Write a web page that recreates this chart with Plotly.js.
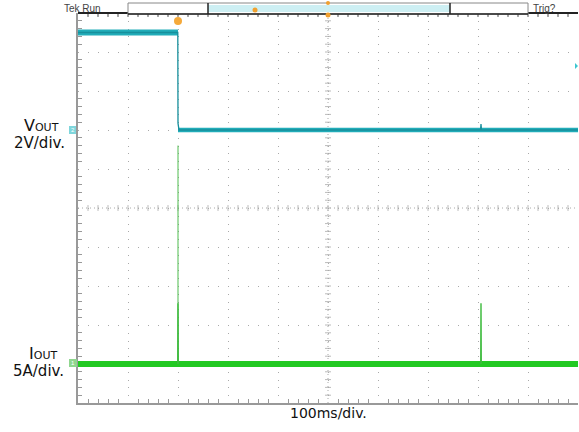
<!DOCTYPE html>
<html>
<head>
<meta charset="utf-8">
<script src="https://cdn.plot.ly/plotly-3.0.1.min.js"></script>
<style>html,body{margin:0;padding:0;background:#fff}#chart{width:579px;height:432px}</style>
</head>
<body>
<div id="chart"></div>
<script>
// ---- data (time in ms, VOUT in V, IOUT in A) ----
const voutBandT  = [0, 200, 200, 1000];
const voutBandHi = [5.15, 5.15, 0.12, 0.12];
const voutBandLo = [4.85, 4.85, -0.12, -0.12];
const voutT = [0, 199.6, 200, 200.6, 202, 805, 806, 807, 1000];
const voutV = [5.0, 5.0, 0.35, 0.05, 0, 0, 0.3, 0, 0];

const ioutBandT  = [0, 1000];
const ioutBandHi = [0.38, 0.38];
const ioutBandLo = [-0.38, -0.38];
const ioutFaintT = [199.6, 200, 200.4];
const ioutFaintA = [0, 28, 0];
const ioutCoreT  = [199.5, 200, 200.5, null, 805.5, 806, 806.5];
const ioutCoreA  = [0, 7.8, 0, null, 0, 7.8, 0];

// scope settings
const timeRange = [0, 1000];   // 100 ms/div, 10 div
const voutRange = [-14, 6];    // 2 V/div, ground at +2 div
const ioutRange = [-5, 45];    // 5 A/div, ground at -4 div
const labelV = "V<span style='font-size:11px'>OUT</span>";
const labelI = "I<span style='font-size:11px'>OUT</span>";
const scaleV = "2V/div.";
const scaleI = "5A/div.";
const scaleT = "100ms/div.";

const teal = '#22adb9', tealDark = '#178f9c';
const green = '#22c922';

const traces = [
  {x: voutBandT, y: voutBandLo, mode: 'lines', line: {width: 0, color: teal}, hoverinfo: 'skip'},
  {x: voutBandT, y: voutBandHi, mode: 'lines', line: {width: 0, color: teal}, fill: 'tonexty', fillcolor: teal, hoverinfo: 'skip'},
  {x: voutT, y: voutV, mode: 'lines', line: {width: 1.3, color: tealDark}},
  {x: ioutFaintT, y: ioutFaintA, yaxis: 'y2', mode: 'lines', line: {width: 1, color: 'rgba(70,185,70,0.55)'}},
  {x: ioutBandT, y: ioutBandLo, yaxis: 'y2', mode: 'lines', line: {width: 0, color: green}, hoverinfo: 'skip'},
  {x: ioutBandT, y: ioutBandHi, yaxis: 'y2', mode: 'lines', line: {width: 0, color: green}, fill: 'tonexty', fillcolor: green, hoverinfo: 'skip'},
  {x: ioutCoreT, y: ioutCoreA, yaxis: 'y2', mode: 'lines', connectgaps: false, line: {width: 1.4, color: '#3dbb3d'}}
];

// decorative shapes
const shapes = [];
const gridGrey = '#aaaaaa';
// center cross
shapes.push({type: 'line', xref: 'x', yref: 'y', x0: 500, x1: 500, y0: voutRange[0], y1: voutRange[1], line: {color: gridGrey, width: 1, dash: '1px,3px'}, layer: 'below'});
shapes.push({type: 'line', xref: 'x', yref: 'y', x0: 0, x1: 1000, y0: -4, y1: -4, line: {color: gridGrey, width: 1, dash: '1px,3px'}, layer: 'below'});
for (let v = voutRange[0] + 0.4; v < voutRange[1]; v += 0.4) {
  shapes.push({type: 'line', xref: 'x', yref: 'y', x0: 494, x1: 506, y0: v, y1: v, line: {color: '#bbbbbb', width: 1}, layer: 'below'});
}
for (let t = 20; t < 1000; t += 20) {
  shapes.push({type: 'line', xref: 'x', yref: 'y', x0: t, x1: t, y0: -4.15, y1: -3.85, line: {color: '#bbbbbb', width: 1}, layer: 'below'});
  // top edge ticks
  shapes.push({type: 'line', xref: 'x', yref: 'paper', x0: t, x1: t, y0: 1, y1: 0.99, line: {color: '#444', width: 1}});
}
// top border line
shapes.push({type: 'line', xref: 'paper', yref: 'paper', x0: 0, x1: 1, y0: 1, y1: 1, line: {color: '#222', width: 2}});
// header bar
const py = p => (403 - p) / 390;
const px = p => (p - 78) / 500;
shapes.push({type: 'rect', xref: 'paper', yref: 'paper', x0: px(128), x1: px(528), y0: py(14), y1: py(3), fillcolor: '#ffffff', line: {color: '#888', width: 1}});
shapes.push({type: 'rect', xref: 'paper', yref: 'paper', x0: px(208), x1: px(450), y0: py(12), y1: py(5), fillcolor: '#cdeff3', line: {width: 0}});
shapes.push({type: 'line', xref: 'paper', yref: 'paper', x0: px(208), x1: px(208), y0: py(14), y1: py(3), line: {color: '#222', width: 1.5}});
shapes.push({type: 'line', xref: 'paper', yref: 'paper', x0: px(450), x1: px(450), y0: py(14), y1: py(3), line: {color: '#222', width: 1.5}});
shapes.push({type: 'line', xref: 'paper', yref: 'paper', x0: px(128), x1: px(528), y0: py(14), y1: py(14), line: {color: '#222', width: 1.5}});
// orange markers
function dot(cx, cy, r, color) {
  shapes.push({type: 'circle', xref: 'paper', yref: 'paper', xsizemode: 'pixel', ysizemode: 'pixel',
    xanchor: px(cx), yanchor: py(cy), x0: -r, x1: r, y0: -r, y1: r, fillcolor: color, line: {width: 0}});
}
dot(255, 10, 2.5, '#f0a030');
dot(328, 3, 2, '#f0a030');
dot(328, 15, 2.5, '#f0a030');
dot(178, 21, 4, '#f5a93a');
// channel markers
shapes.push({type: 'rect', xref: 'paper', yref: 'paper', x0: px(69), x1: px(76), y0: py(134), y1: py(126), fillcolor: '#7fd6dc', line: {width: 0}});
shapes.push({type: 'rect', xref: 'paper', yref: 'paper', x0: px(69), x1: px(77), y0: py(367), y1: py(359), fillcolor: '#8fd68f', line: {width: 0}});
// right-edge cyan marker
shapes.push({type: 'path', xref: 'paper', yref: 'paper', path: `M ${px(575)} ${py(63)} L ${px(578)} ${py(66)} L ${px(575)} ${py(69)} Z`, fillcolor: '#3cc6d0', line: {width: 0}});

const txt = {family: 'DejaVu Sans, Verdana, sans-serif', color: '#111'};
function ann(text, x, y, font, xanchor) {
  return {text: text, x: px(x), y: py(y), xref: 'paper', yref: 'paper', xanchor: xanchor || 'center', yanchor: 'middle', showarrow: false, font: font};
}
const annotations = [
  ann(labelV, 41, 126, Object.assign({size: 16}, txt)),
  ann(scaleV, 39, 143, Object.assign({size: 15}, txt)),
  ann(labelI, 43, 353, Object.assign({size: 16}, txt)),
  ann(scaleI, 38, 371, Object.assign({size: 15}, txt)),
  ann(scaleT, 328, 413, Object.assign({size: 14}, txt)),
  ann('Tek Run', 62, 8, {family: 'Liberation Sans, Arial, sans-serif', size: 10, color: '#444'}, 'left'),
  ann('Trig?', 531, 8, {family: 'Liberation Sans, Arial, sans-serif', size: 10, color: '#444'}, 'left'),
  ann('2', 72.5, 130, {family: 'Liberation Sans, Arial, sans-serif', size: 6, color: '#fff'}),
  ann('1', 73, 363, {family: 'Liberation Sans, Arial, sans-serif', size: 6, color: '#fff'})
];

const layout = {
  width: 579, height: 432,
  margin: {l: 78, r: 1, t: 13, b: 29, pad: 0},
  paper_bgcolor: '#ffffff', plot_bgcolor: '#ffffff',
  showlegend: false,
  xaxis: {range: timeRange, dtick: 100, showgrid: true, gridcolor: gridGrey, gridwidth: 1, griddash: '1px,6.8px',
    zeroline: false, showline: true, linecolor: '#999', linewidth: 2, showticklabels: false, ticks: '',
    minor: {dtick: 20, ticks: 'inside', ticklen: 4, tickcolor: '#999', showgrid: false}, fixedrange: true},
  yaxis: {range: voutRange, dtick: 2, showgrid: true, gridcolor: gridGrey, gridwidth: 1, griddash: '1px,9px',
    zeroline: false, showline: true, linecolor: '#999', linewidth: 2, showticklabels: false, ticks: '',
    minor: {dtick: 0.4, ticks: 'inside', ticklen: 4, tickcolor: '#999', showgrid: false}, fixedrange: true},
  yaxis2: {range: ioutRange, overlaying: 'y', visible: false, showgrid: false, zeroline: false, fixedrange: true},
  shapes: shapes,
  annotations: annotations
};

Plotly.newPlot('chart', traces, layout, {displayModeBar: false, staticPlot: true});
</script>
</body>
</html>
